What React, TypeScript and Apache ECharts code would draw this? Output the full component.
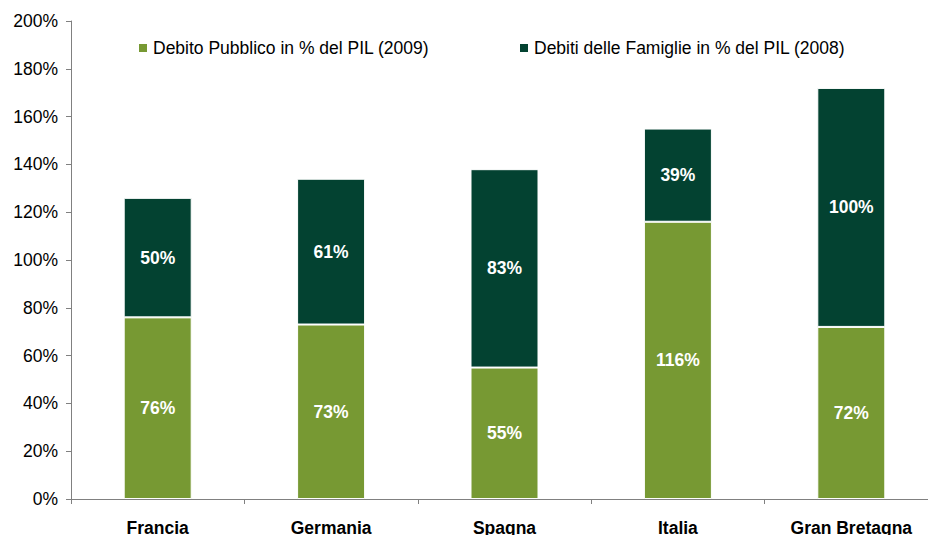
import React, { useEffect, useRef } from "react";
import * as echarts from "echarts";

const categories = ["Francia", "Germania", "Spagna", "Italia", "Gran Bretagna"];
const debitoPubblico = [76, 73, 55, 116, 72];
const debitiFamiglie = [50, 61, 83, 39, 100];
const seriesNames = ["Debito Pubblico in % del PIL (2009)", "Debiti delle Famiglie in % del PIL (2008)"];

const FONT = "Liberation Sans, Arial, sans-serif";
const GREEN = "#779933";
const DARK = "#034231";

export default function App() {
  const ref = useRef<HTMLDivElement>(null);
  useEffect(() => {
    const chart = echarts.init(ref.current!, null, { renderer: "svg" });
    const label = {
      show: true,
      position: "inside",
      color: "#ffffff",
      fontFamily: FONT,
      fontWeight: "bold",
      fontSize: 17.5,
      formatter: (p: any) => `${p.value}%`,
    };
    const legendBase = {
      top: 34,
      itemWidth: 10,
      itemHeight: 10,
      itemGap: 4,
      icon: "rect",
      textStyle: { fontFamily: FONT, fontSize: 17.5, color: "#000", padding: [0, 0, 0, 0] },
    };
    chart.setOption({
      animation: false,
      legend: [
        { ...legendBase, left: 132, data: [seriesNames[0]] },
        { ...legendBase, left: 513, data: [seriesNames[1]] },
      ],
      grid: { left: 71, width: 867, top: 21, bottom: 36, outerBoundsMode: "none", containLabel: false },
      xAxis: {
        type: "category",
        data: categories,
        axisLine: { lineStyle: { color: "#808080", width: 1 } },
        axisTick: { show: true, length: 5, lineStyle: { color: "#808080" } },
        axisLabel: {
          fontFamily: FONT,
          fontWeight: "bold",
          fontSize: 17.5,
          color: "#000",
          margin: 20,
        },
      },
      yAxis: {
        type: "value",
        min: 0,
        max: 200,
        interval: 20,
        splitLine: { show: false },
        axisLine: { show: true, lineStyle: { color: "#808080", width: 1 } },
        axisTick: { show: true, length: 5, lineStyle: { color: "#808080" } },
        axisLabel: {
          fontFamily: FONT,
          fontSize: 17.5,
          color: "#000",
          margin: 13,
          formatter: "{value}%",
        },
      },
      series: [
        {
          name: seriesNames[0],
          type: "bar",
          stack: "tot",
          barWidth: 68,
          data: debitoPubblico,
          itemStyle: { color: GREEN, borderColor: "#ffffff", borderWidth: 1 },
          label,
        },
        {
          name: seriesNames[1],
          type: "bar",
          stack: "tot",
          barWidth: 68,
          data: debitiFamiglie,
          itemStyle: { color: DARK, borderColor: "#ffffff", borderWidth: 1 },
          label,
        },
      ],
    });
    return () => chart.dispose();
  }, []);
  return <div ref={ref} style={{ width: 928, height: 535, position: "absolute", left: 0, top: 0 }} />;
}
